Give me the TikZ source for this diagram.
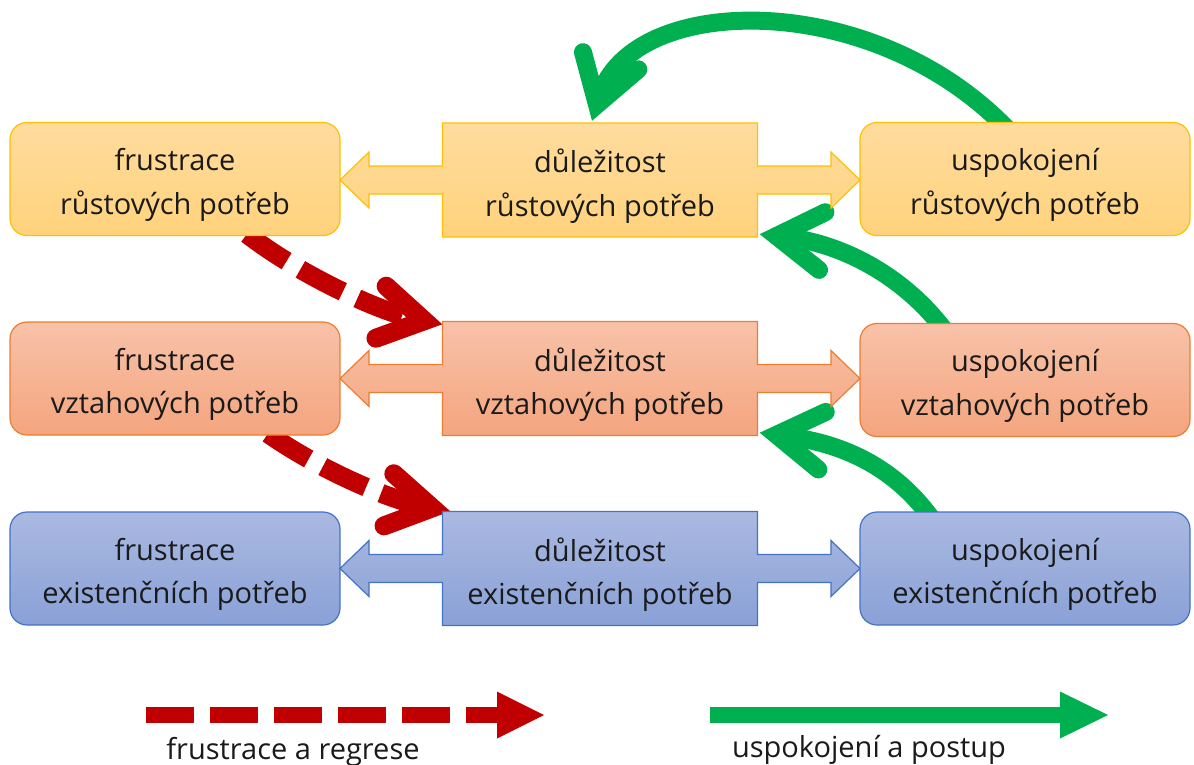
\documentclass[tikz,border=0pt]{standalone}
\usepackage{fontspec}
\setmainfont{Open Sans}
\usetikzlibrary{arrows.meta,calc}
\pgfdeclarelayer{background}
\pgfsetlayers{background,main}
\definecolor{ybor}{HTML}{FFC000}
\definecolor{ytop}{HTML}{FFDC9E}
\definecolor{ybot}{HTML}{FFD27C}
\definecolor{obor}{HTML}{ED7D31}
\definecolor{otop}{HTML}{F8C2A9}
\definecolor{obot}{HTML}{F4A57E}
\definecolor{bbor}{HTML}{4472C4}
\definecolor{btop}{HTML}{AAB9E1}
\definecolor{bbot}{HTML}{8AA1D7}
\definecolor{grn}{HTML}{00B050}
\definecolor{rd}{HTML}{C00000}
\definecolor{txtc}{HTML}{1A1A1A}
\tikzset{
  box/.style={rounded corners=17pt, minimum width=330pt, minimum height=113pt, line width=1.2pt, inner sep=0pt},
  core/.style={minimum width=315pt, minimum height=114pt, inner sep=0pt},
  yel/.style={draw=ybor, top color=ytop, bottom color=ybot, line width=1.2pt},
  ora/.style={draw=obor, top color=otop, bottom color=obot, line width=1.2pt},
  blu/.style={draw=bbor, top color=btop, bottom color=bbot, line width=1.2pt},
  txt/.style={align=center, font=\fontsize{29}{43.5}\selectfont, inner sep=0pt, text=txtc},
  legtxt/.style={font=\fontsize{29}{32}\selectfont, anchor=base, inner sep=0pt, text=txtc},
  grnarr/.style={draw=grn, line width=18pt, -{Straight Barb[length=46pt,width=58pt,line cap=round,line join=miter]}},
  redarr/.style={draw=rd, line width=19pt, dash pattern=on 48pt off 16pt, -{Straight Barb[length=44pt,width=53pt,line cap=round,line join=miter]}},
}
\newcommand\twoway[2]{%
  \path[#2, shift={(#1.center)}] (-157.5,-57) -- (157.5,-57) -- (157.5,-14) -- (231,-14) -- (231,-28) -- (260,0) -- (231,28) -- (231,14) -- (157.5,14) -- (157.5,57) -- (-157.5,57) -- (-157.5,14) -- (-231,14) -- (-231,28) -- (-260,0) -- (-231,-28) -- (-231,-14) -- (-157.5,-14) -- cycle;}
\begin{document}
\begin{tikzpicture}[x=1pt,y=-1pt]
\useasboundingbox (0,0) rectangle (1194,764);
\begin{pgfonlayer}{background}
\fill[white] (0,0) rectangle (1194,764);
\end{pgfonlayer}
% row 1
\node[box,yel] (l1) at (175,179) {};
\node[core] (m1) at (600,180) {};
\twoway{m1}{yel}
\node[box,yel] (r1) at (1025,179) {};
% row 2
\node[box,ora] (l2) at (175,378.5) {};
\node[core] (m2) at (600,378.5) {};
\twoway{m2}{ora}
\node[box,ora] (r2) at (1025,380) {};
% row 3
\node[box,blu] (l3) at (175,568.5) {};
\node[core] (m3) at (600,568.5) {};
\twoway{m3}{blu}
\node[box,blu] (r3) at (1025,568.5) {};
% texts
\node[txt] (tl1) at ([yshift=-6pt]l1.center) {frustrace\\růstových potřeb};
\node[txt] (tm1) at ([yshift=-6pt]m1.center) {důležitost\\růstových potřeb};
\node[txt] (tr1) at ([yshift=-6pt]r1.center) {uspokojení\\růstových potřeb};
\node[txt] (tl2) at ([yshift=-6pt]l2.center) {frustrace\\vztahových potřeb};
\node[txt] (tm2) at ([yshift=-6pt]m2.center) {důležitost\\vztahových potřeb};
\node[txt] (tr2) at ([yshift=-6pt]r2.center) {uspokojení\\vztahových potřeb};
\node[txt] (tl3) at ([yshift=-6pt]l3.center) {frustrace\\existenčních potřeb};
\node[txt] (tm3) at ([yshift=-6pt]m3.center) {důležitost\\existenčních potřeb};
\node[txt] (tr3) at ([yshift=-6pt]r3.center) {uspokojení\\existenčních potřeb};
% connectors
\begin{pgfonlayer}{background}
\draw[grnarr] ($(r1.north)+(-15,10)$) .. controls (875,-12) and (632,-8) .. ($(m1.north)+(-8,-2)$);
\draw[grnarr] ($(r2.north)+(-77,12)$) .. controls (905,275) and (840,243) .. ($(m1.south east)+(2,-3)$);
\draw[grnarr] ($(r3.north)+(-90,12)$) .. controls (895,465) and (840,443) .. ($(m2.south east)+(2,-3)$);
\draw[redarr] ($(l1.south)+(72,-2)$) .. controls (300,275) and (380,312) .. ($(m2.north west)+(0,3)$);
\draw[redarr] ($(l2.south)+(93,-2)$) .. controls (320,470) and (390,500) .. ($(m3.north west)+(8,0)$);
\end{pgfonlayer}
% legend
\coordinate (la) at (146,715);
\coordinate (lb) at (544,715);
\coordinate (lc) at (710,715);
\coordinate (ld) at (1108,715);
\draw[rd, line width=16pt, dash pattern=on 48pt off 16pt, -{Triangle[length=47pt,width=47pt,line width=0pt]}] (la) -- (lb);
\draw[grn, line width=16pt, -{Triangle[length=48pt,width=47pt,line width=0pt]}] (lc) -- (ld);
\node[legtxt] (lt1) at (293,759) {frustrace a regrese};
\node[legtxt] (lt2) at (869,757) {uspokojení a postup};
\end{tikzpicture}
\end{document}
